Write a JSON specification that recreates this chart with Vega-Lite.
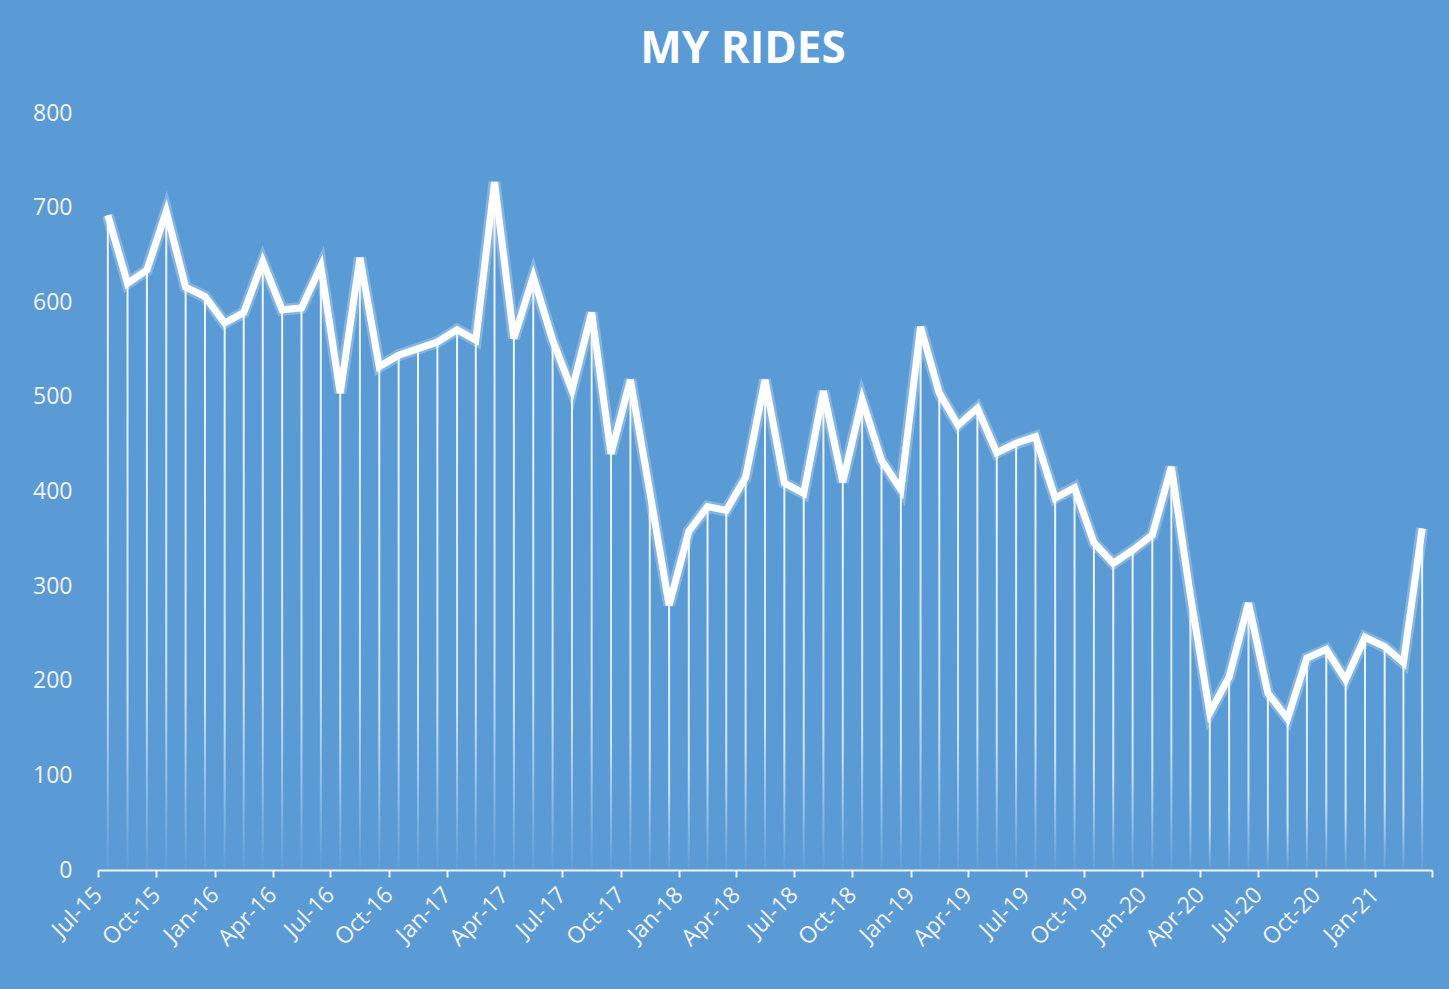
{
  "$schema": "https://vega.github.io/schema/vega-lite/v6.json",
  "autosize": {"type": "none"},
  "width": 1334,
  "height": 757,
  "padding": {"left": 98, "top": 113, "right": 17, "bottom": 119},
  "background": "#5B9BD5",
  "config": {"view": {"stroke": null}},
  "title": {"text": "MY RIDES", "color": "#FFFFFF", "font": "Open Sans", "fontSize": 44, "fontWeight": "bold", "anchor": "middle", "dx": -22, "offset": 30},
  "data": {"values": [
    {"month": "2015-07", "rides": 692}, {"month": "2015-08", "rides": 620}, {"month": "2015-09", "rides": 634},
    {"month": "2015-10", "rides": 696}, {"month": "2015-11", "rides": 616}, {"month": "2015-12", "rides": 606},
    {"month": "2016-01", "rides": 578}, {"month": "2016-02", "rides": 589}, {"month": "2016-03", "rides": 643},
    {"month": "2016-04", "rides": 592}, {"month": "2016-05", "rides": 594}, {"month": "2016-06", "rides": 638},
    {"month": "2016-07", "rides": 504}, {"month": "2016-08", "rides": 647}, {"month": "2016-09", "rides": 532},
    {"month": "2016-10", "rides": 544}, {"month": "2016-11", "rides": 551}, {"month": "2016-12", "rides": 558},
    {"month": "2017-01", "rides": 571}, {"month": "2017-02", "rides": 560}, {"month": "2017-03", "rides": 727},
    {"month": "2017-04", "rides": 562}, {"month": "2017-05", "rides": 627}, {"month": "2017-06", "rides": 560},
    {"month": "2017-07", "rides": 507}, {"month": "2017-08", "rides": 589}, {"month": "2017-09", "rides": 440},
    {"month": "2017-10", "rides": 518}, {"month": "2017-11", "rides": 400}, {"month": "2017-12", "rides": 280},
    {"month": "2018-01", "rides": 358}, {"month": "2018-02", "rides": 384}, {"month": "2018-03", "rides": 380},
    {"month": "2018-04", "rides": 415}, {"month": "2018-05", "rides": 518}, {"month": "2018-06", "rides": 409},
    {"month": "2018-07", "rides": 398}, {"month": "2018-08", "rides": 506}, {"month": "2018-09", "rides": 410},
    {"month": "2018-10", "rides": 497}, {"month": "2018-11", "rides": 433}, {"month": "2018-12", "rides": 402},
    {"month": "2019-01", "rides": 574}, {"month": "2019-02", "rides": 504}, {"month": "2019-03", "rides": 470},
    {"month": "2019-04", "rides": 488}, {"month": "2019-05", "rides": 441}, {"month": "2019-06", "rides": 451},
    {"month": "2019-07", "rides": 458}, {"month": "2019-08", "rides": 393}, {"month": "2019-09", "rides": 404},
    {"month": "2019-10", "rides": 346}, {"month": "2019-11", "rides": 324}, {"month": "2019-12", "rides": 338},
    {"month": "2020-01", "rides": 354}, {"month": "2020-02", "rides": 426}, {"month": "2020-03", "rides": 290},
    {"month": "2020-04", "rides": 166}, {"month": "2020-05", "rides": 204}, {"month": "2020-06", "rides": 282},
    {"month": "2020-07", "rides": 187}, {"month": "2020-08", "rides": 160}, {"month": "2020-09", "rides": 224},
    {"month": "2020-10", "rides": 233}, {"month": "2020-11", "rides": 201}, {"month": "2020-12", "rides": 246},
    {"month": "2021-01", "rides": 236}, {"month": "2021-02", "rides": 219}, {"month": "2021-03", "rides": 361}
  ]},
  "encoding": {
    "x": {
      "field": "month", "timeUnit": "yearmonth", "type": "temporal", "bandPosition": 0.5,
      "scale": {"domain": [{"year": 2015, "month": 7, "date": 1}, {"year": 2021, "month": 4, "date": 1}]},
      "axis": {
        "title": null, "tickCount": {"interval": "month", "step": 3},
        "labelExpr": "datum.value >= datetime(2021, 2, 15) ? '' : timeFormat(datum.value, '%b-%y')",
        "labelAngle": -45, "labelAlign": "right", "labelBaseline": "middle", "labelFlush": false,
        "labelFont": "Open Sans", "labelFontSize": 23, "labelColor": "#F2F2F2", "labelPadding": 14,
        "domainColor": "#F2F2F2", "domainWidth": 2, "tickColor": "#F2F2F2", "tickWidth": 2, "tickSize": 7,
        "grid": false, "labelOverlap": false
      }
    },
    "y": {
      "field": "rides", "type": "quantitative",
      "scale": {"domain": [0, 800]},
      "axis": {
        "title": null, "values": [0, 100, 200, 300, 400, 500, 600, 700, 800],
        "domain": false, "ticks": false, "grid": false,
        "labelFont": "Open Sans", "labelFontSize": 23, "labelColor": "#F2F2F2", "labelPadding": 26
      }
    }
  },
  "layer": [
    {
      "mark": {"type": "bar", "width": 2, "fill": {"gradient": "linear", "x1": 0, "y1": 0, "x2": 0, "y2": 1,
        "stops": [{"offset": 0, "color": "rgba(255,255,255,0.9)"}, {"offset": 0.7, "color": "rgba(255,255,255,0.7)"}, {"offset": 1, "color": "rgba(255,255,255,0.02)"}]}}
    },
    {"mark": {"type": "line", "color": "#FFFFFF", "strokeWidth": 12, "opacity": 0.25, "strokeJoin": "miter"}},
    {"mark": {"type": "line", "color": "#FFFFFF", "strokeWidth": 7, "strokeJoin": "miter"}}
  ]
}
